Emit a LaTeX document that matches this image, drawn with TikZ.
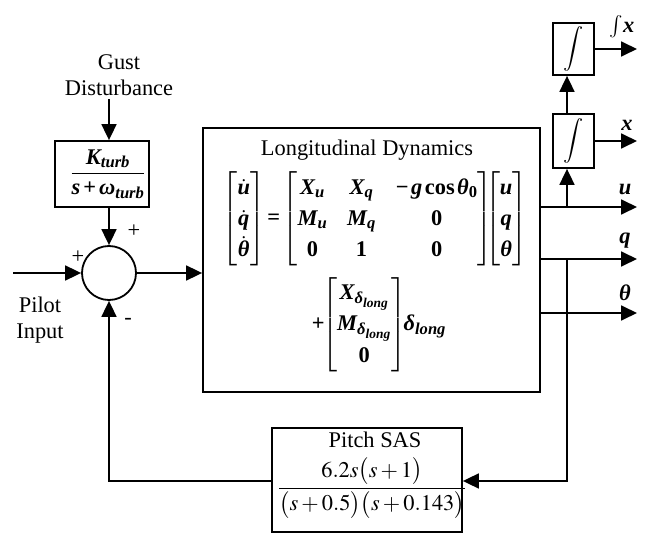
\documentclass[tikz,border=0pt]{standalone}
\usepackage{amsmath}
\usepackage{mathptmx}
\usepackage[no-math]{fontspec}
\setmainfont{Liberation Serif}
\usetikzlibrary{arrows.meta}
\newcommand\bi[1]{\text{\bfseries\itshape #1}}
\newcommand\br[1]{\text{\bfseries #1}}
\newcommand\bplus{\mathbin{\br{+}}}
\begin{document}
\begin{tikzpicture}[x=1pt,y=-1pt, line width=1.8pt,
  >={Triangle[length=16pt,width=15pt]},
  font=\fontsize{22.4}{26}\selectfont,
  box/.style={draw, line width=1.8pt, inner sep=0pt},
  lbl/.style={inner sep=0pt}]
\useasboundingbox (0,0) rectangle (651,540);
% gust branch
\node[lbl, align=center] (gust) at (119,75) {Gust\\Disturbance};
\node[box, minimum width=94pt, minimum height=66pt] (gbox) at (102,174) {};
\node[lbl] (gtf) at (108,174) {$\dfrac{\bi{K}_{\bi{turb}}}{\bi{s}\bplus\bi{ω}_{\bi{turb}}}$};
\node[draw, circle, minimum size=54pt, inner sep=0pt, line width=1.8pt] (sum) at (109,273) {};
\draw[->] (gust.south -| sum) ++(0,3) coordinate (g0) -- (gbox.north -| sum);
\draw[->] (gbox.south -| sum) -- (sum.north);
\node[lbl] (pl) at (78,257) {+};
\node[lbl] (pt) at (134,231) {+};
\node[lbl] (mn) at (128,321) {-};
\coordinate (in0) at (13,273);
\draw[->] (in0) -- (sum.west);
\node[lbl, align=center] (pilot) at (40,320) {Pilot\\Input};
% dynamics
\node[box, minimum width=337pt, minimum height=264pt] (dyn) at (371.5,260) {};
\node[lbl] (title) at (367,150) {Longitudinal Dynamics};
\node[lbl] (eq1) at (375,219) {\renewcommand{\arraystretch}{1.2}$\begin{bmatrix}\dot{\bi{u}}\\ \dot{\bi{q}}\\ \dot{\bi{θ}}\end{bmatrix}\!\mathrel{\br{=}}\!{\setlength{\arraycolsep}{10pt}\begin{bmatrix} \bi{X}_{\bi{u}} & \bi{X}_{\bi{q}} & \br{−}\,\bi{g}\,\br{cos}\,\bi{θ}_{\br{0}}\\ \bi{M}_{\bi{u}} & \bi{M}_{\bi{q}} & \br{0}\\ \br{0} & \br{1} & \br{0}\end{bmatrix}}\!\!\!\!\begin{bmatrix}\bi{u}\\ \bi{q}\\ \bi{θ}\end{bmatrix}$};
\node[lbl] (eq2) at (379,325) {\renewcommand{\arraystretch}{1.15}$\br{+}\!\!\begin{bmatrix}\bi{X}_{\bi{δ}_{\bi{long}}}\\ \bi{M}_{\bi{δ}_{\bi{long}}}\\ \br{0}\end{bmatrix}\!\!\bi{δ}_{\bi{long}}$};
\draw[->] (sum.east) -- (dyn.west |- sum);
% outputs
\coordinate (ou) at (540,207);
\coordinate (oq) at (540,259);
\coordinate (ot) at (540,313);
\coordinate (eu) at (637,207);
\coordinate (eq) at (637,259);
\coordinate (et) at (637,313);
\draw[->] (ou) -- (eu);
\draw[->] (oq) -- (eq);
\draw[->] (ot) -- (et);
\node[lbl] (lu) at (625,189) {\bfseries\itshape u};
\node[lbl] (lq) at (625,241) {\bfseries\itshape q};
\node[lbl] (lt) at (625,293) {\bfseries\itshape θ};
% integrators
\coordinate (ju) at (567,207);
\coordinate (jq) at (567,259);
\node[box, minimum width=41pt, minimum height=54pt] (int1) at (573.5,141) {};
\node[lbl] (s1) at (573.5,141) {$\displaystyle\int$};
\node[box, minimum width=41pt, minimum height=52pt] (int2) at (573.5,49) {};
\node[lbl] (s2) at (573.5,49) {$\displaystyle\int$};
\draw[->] (ju) -- (int1.south -| ju);
\draw[->] (int1.north -| ju) -- (int2.south -| ju);
\coordinate (ex) at (637,141);
\coordinate (eix) at (637,49);
\draw[->] (int1.east) -- (ex);
\draw[->] (int2.east) -- (eix);
\node[lbl] (lx) at (627,125) {\bfseries\itshape x};
\node[lbl] (lix) at (622,27) {$\int\!\bi{x}$};
% feedback
\node[box, minimum width=190pt, minimum height=104pt] (sas) at (367,480) {};
\node[lbl] (sastitle) at (375,440) {Pitch SAS};
\node[lbl] (sastf) at (372,488) {$\dfrac{6.2s\bigl(s+1\bigr)}{\bigl(s+0.5\bigr)\bigl(s+0.143\bigr)}$};
\coordinate (fb) at (567,481);
\draw[->] (jq) -- (fb) -- (sas.east |- fb);
\draw[->] (sas.west |- fb) -- (sum |- fb) -- (sum.south);
\end{tikzpicture}
\end{document}
